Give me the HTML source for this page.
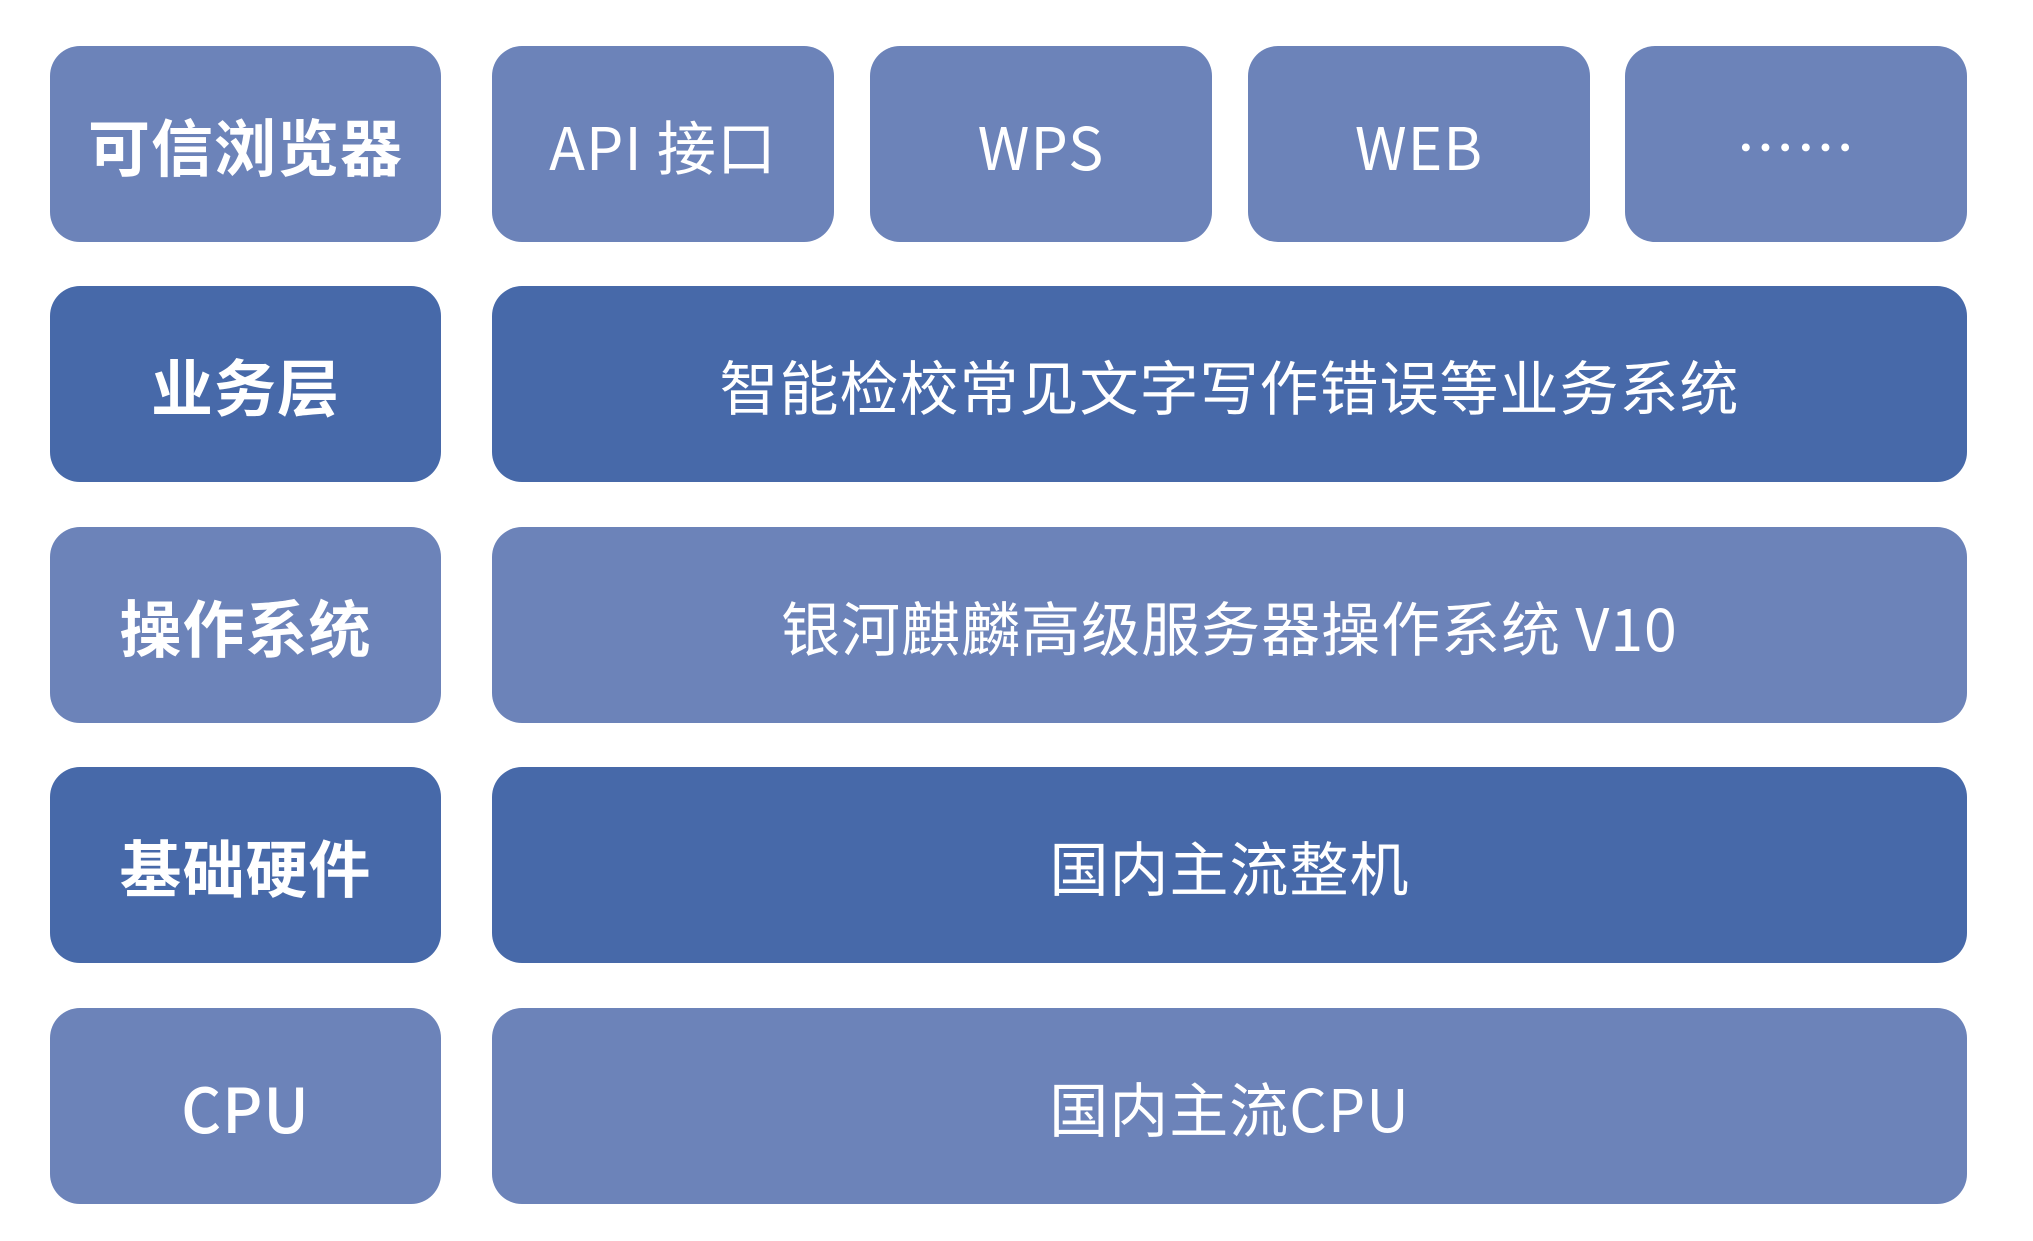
<!DOCTYPE html>
<html><head><meta charset="utf-8"><style>
body{margin:0;width:2033px;height:1241px;background:#fff;position:relative;overflow:hidden;font-family:"Noto Sans CJK SC","Liberation Sans",sans-serif}
.b{position:absolute;height:196px;border-radius:30px;color:#fff;display:flex;align-items:center;justify-content:center;font-size:59px;letter-spacing:1px}
.l{background:#6c83b9}.d{background:#4769a9}
.k{font-weight:700;font-size:62px;left:50px;width:391px}
</style></head><body>
<div class="b l k" style="top:46px">可信浏览器</div>
<div class="b l" style="top:46px;left:492px;width:342px">API 接口</div>
<div class="b l" style="top:46px;left:870px;width:342px">WPS</div>
<div class="b l" style="top:46px;left:1248px;width:342px">WEB</div>
<div class="b l" style="top:46px;left:1625px;width:342px">……</div>

<div class="b d k" style="top:286px">业务层</div>
<div class="b d" style="top:286px;left:492px;width:1475px">智能检校常见文字写作错误等业务系统</div>

<div class="b l k" style="top:527px">操作系统</div>
<div class="b l" style="top:527px;left:492px;width:1475px">银河麒麟高级服务器操作系统 V10</div>

<div class="b d k" style="top:767px">基础硬件</div>
<div class="b d" style="top:767px;left:492px;width:1475px">国内主流整机</div>

<div class="b l k" style="top:1008px;font-weight:500">CPU</div>
<div class="b l" style="top:1008px;left:492px;width:1475px">国内主流CPU</div>
</body></html>
